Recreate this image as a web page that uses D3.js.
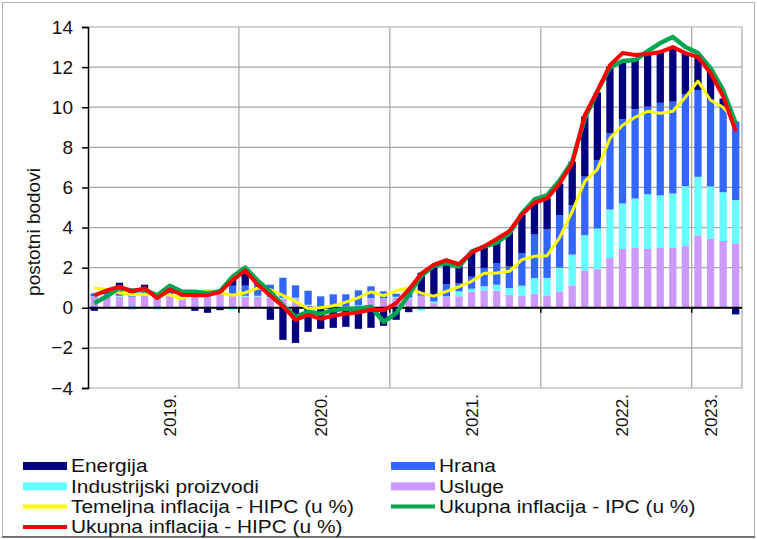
<!DOCTYPE html>
<html>
<head>
<meta charset="utf-8">
<script src="https://cdn.jsdelivr.net/npm/d3@7"></script>
<style>
  body { margin: 0; background: #fff; }
  svg { display: block; font-family: "Liberation Sans", Arial, sans-serif; }
</style>
</head>
<body>
<svg id="chart"></svg>
<script>
// months Jan 2019 - Apr 2023
var months = [
  "2019-01","2019-02","2019-03","2019-04","2019-05","2019-06","2019-07","2019-08","2019-09","2019-10","2019-11","2019-12",
  "2020-01","2020-02","2020-03","2020-04","2020-05","2020-06","2020-07","2020-08","2020-09","2020-10","2020-11","2020-12",
  "2021-01","2021-02","2021-03","2021-04","2021-05","2021-06","2021-07","2021-08","2021-09","2021-10","2021-11","2021-12",
  "2022-01","2022-02","2022-03","2022-04","2022-05","2022-06","2022-07","2022-08","2022-09","2022-10","2022-11","2022-12",
  "2023-01","2023-02","2023-03","2023-04"
];
var yearLabels = ["2019.","2020.","2021.","2022.","2023."];
var yearLabelMonths = ["2019-07","2020-07","2021-07","2022-07","2023-02"];
var yearStarts = ["2020-01","2021-01","2022-01","2023-01"];
var yTicks = [-4,-2,0,2,4,6,8,10,12,14];

// contributions (percentage points)
var usluge = [
  0.55,0.6,0.55,0.55,0.65,0.5,0.6,0.45,0.6,0.6,0.7,0.65,
  0.55,0.55,0.5,0.45,0.45,0.1,0.05,0.05,0.05,0.1,0.45,0.45,
  0.5,0.45,0.6,0.23,0.55,0.57,0.8,0.87,0.85,0.65,0.6,0.7,
  0.62,0.82,1.12,1.87,1.92,2.48,2.93,2.98,2.93,2.98,2.98,3.08,
  3.6,3.45,3.33,3.2
];
var industrijski = [
  0.02,0.05,0.05,-0.1,-0.05,-0.1,0.05,0.05,0.0,0.0,0.0,-0.1,
  0.05,0.05,0.05,0.05,0.05,0.05,0.02,0.02,0.02,0.02,0.02,0.02,
  0.05,0.05,-0.15,0.08,0.02,0.25,0.15,0.2,0.3,0.33,0.5,0.78,
  0.87,1.18,1.53,1.75,2.03,2.42,2.27,2.47,2.73,2.62,2.72,2.98,
  2.93,2.6,2.43,2.17
];
var hrana = [
  0.15,0.1,0.3,0.1,0.15,0.05,0.25,0.15,0.2,0.3,0.2,0.45,
  0.5,0.55,0.6,1.0,0.62,0.7,0.5,0.6,0.6,0.75,0.6,0.35,
  0.15,0.4,0.1,0.25,0.6,0.4,0.6,0.92,1.08,1.08,1.63,2.17,
  2.42,2.62,2.47,2.92,3.42,3.8,4.2,4.45,4.37,4.62,4.58,4.6,
  4.33,4.33,4.23,3.92
];
var energija = [
  -0.15,0.15,0.35,0.3,0.35,0.05,0.0,0.0,-0.15,-0.25,-0.12,0.4,
  0.7,0.1,-0.6,-1.6,-1.75,-1.2,-1.05,-1.0,-0.95,-1.05,-1.0,-0.9,
  -0.6,-0.22,1.05,1.58,1.25,0.92,1.2,1.12,1.17,1.7,1.92,1.62,
  1.55,1.58,2.17,3.0,3.37,3.33,2.88,2.55,2.58,2.55,2.67,2.03,
  1.58,1.42,0.45,-0.33
];

// rates (%)
var temeljnaHIPC = [
  1.0,0.9,0.75,0.65,0.68,0.65,0.65,0.45,0.75,0.85,0.75,0.62,
  0.75,0.98,0.9,0.62,0.32,-0.05,0.0,0.1,0.28,0.5,0.8,0.6,
  0.85,1.0,0.73,0.58,0.82,1.05,1.32,1.72,1.73,1.82,2.4,2.57,
  2.6,3.5,4.8,6.3,6.9,8.45,9.1,9.5,9.8,9.7,9.8,10.5,
  11.3,10.35,10.0,9.3
];
var ukupnaIPC = [
  0.23,0.57,1.0,0.85,0.9,0.62,1.1,0.8,0.8,0.72,0.82,1.55,
  2.0,1.35,0.8,0.12,-0.45,-0.2,-0.3,-0.12,-0.05,-0.05,0.05,-0.7,
  -0.27,0.65,1.6,2.1,2.22,2.05,2.8,3.05,3.25,3.7,4.7,5.4,
  5.6,6.35,7.3,9.45,10.8,12.0,12.3,12.35,12.8,13.2,13.5,13.0,
  12.7,11.95,10.85,9.2
];
var ukupnaHIPC = [
  0.62,0.87,1.05,0.82,0.98,0.48,0.9,0.65,0.63,0.63,0.78,1.38,
  1.85,1.15,0.6,0.07,-0.6,-0.35,-0.55,-0.4,-0.3,-0.23,-0.1,-0.12,
  0.23,0.9,1.7,2.15,2.38,2.18,2.75,3.07,3.43,3.82,4.65,5.23,
  5.45,6.2,7.2,9.6,10.8,12.1,12.7,12.6,12.65,12.75,13.0,12.7,
  12.5,11.7,10.55,8.8
];

var width = 757, height = 539;
var plotL = 88, plotR = 742, plotT = 27, plotB = 388;

var barSeries = [
  {key: "usluge", values: usluge, color: "#cc99ff"},
  {key: "industrijski", values: industrijski, color: "#66ffff"},
  {key: "hrana", values: hrana, color: "#3366ff"},
  {key: "energija", values: energija, color: "#000080"}
];
var lineSeries = [
  {values: temeljnaHIPC, color: "#ffff00", w: 3},
  {values: ukupnaIPC, color: "#00a64f", w: 4.5},
  {values: ukupnaHIPC, color: "#ff0000", w: 4}
];

var svg = d3.select("#chart").attr("width", width).attr("height", height);

svg.append("rect")
  .attr("x", 2.5).attr("y", 2.5)
  .attr("width", width - 5).attr("height", height - 5)
  .attr("fill", "#fff").attr("stroke", "#b4b4b4");
svg.append("line")
  .attr("x1", 2).attr("x2", width - 2).attr("y1", height - 2).attr("y2", height - 2)
  .attr("stroke", "#555").attr("stroke-width", 1.5);

var x = d3.scaleBand().domain(months).range([plotL, plotR])
  .paddingInner(0.42).paddingOuter(0.21);
var y = d3.scaleLinear().domain([-4, 14]).range([plotB, plotT]);

function cx(m) { return x(m) + x.bandwidth() / 2; }

// grid
var grid = svg.append("g");
grid.selectAll(".hg").data(yTicks).enter().append("line")
  .attr("x1", plotL).attr("x2", plotR)
  .attr("y1", function(d) { return y(d); })
  .attr("y2", function(d) { return y(d); })
  .attr("stroke", "#a6a6a6").attr("stroke-width", 1.2);
grid.selectAll(".vg").data(yearStarts).enter().append("line")
  .attr("x1", function(d) { return cx(d) - x.step() / 2; })
  .attr("x2", function(d) { return cx(d) - x.step() / 2; })
  .attr("y1", plotT).attr("y2", plotB)
  .attr("stroke", "#a6a6a6").attr("stroke-width", 1.2);
grid.append("line")
  .attr("x1", plotR).attr("x2", plotR).attr("y1", plotT).attr("y2", plotB)
  .attr("stroke", "#a6a6a6").attr("stroke-width", 1.2);

// stacked bars
var rows = months.map(function(m, i) {
  var r = {month: m};
  barSeries.forEach(function(s) { r[s.key] = s.values[i]; });
  return r;
});
var stacked = d3.stack()
  .keys(barSeries.map(function(s) { return s.key; }))
  .offset(d3.stackOffsetDiverging)(rows);

svg.append("g").selectAll("g")
  .data(stacked).enter().append("g")
  .attr("fill", function(d, i) { return barSeries[i].color; })
  .selectAll("rect")
  .data(function(d) { return d; })
  .enter().append("rect")
  .attr("x", function(d) { return x(d.data.month); })
  .attr("width", x.bandwidth())
  .attr("y", function(d) { return y(Math.max(d[0], d[1])); })
  .attr("height", function(d) { return Math.abs(y(d[0]) - y(d[1])); });

// axes
var yAxis = d3.axisLeft(y).tickValues(yTicks).tickSize(6).tickPadding(9);
var gy = svg.append("g").attr("transform", "translate(" + plotL + ",0)").call(yAxis);
gy.select(".domain").attr("stroke", "#000").attr("stroke-width", 1.5);
gy.selectAll(".tick line").attr("stroke", "#000").attr("stroke-width", 1.5);
gy.selectAll("text").attr("font-size", 19).attr("fill", "#111")
  .attr("font-family", "Liberation Sans, Arial, sans-serif");

svg.append("line")
  .attr("x1", plotL).attr("x2", plotR).attr("y1", y(0)).attr("y2", y(0))
  .attr("stroke", "#000").attr("stroke-width", 2);
svg.selectAll(".xt").data(yearStarts).enter().append("line")
  .attr("x1", function(d) { return cx(d) - x.step() / 2; })
  .attr("x2", function(d) { return cx(d) - x.step() / 2; })
  .attr("y1", y(0)).attr("y2", y(0) + 5)
  .attr("stroke", "#000").attr("stroke-width", 1.5);

svg.selectAll(".yl").data(yearLabels).enter().append("text")
  .attr("transform", function(d, i) {
    return "translate(" + cx(yearLabelMonths[i]) + ",394) rotate(-90)";
  })
  .attr("text-anchor", "end").attr("dy", "0.35em")
  .attr("font-size", 17).attr("fill", "#111")
  .text(function(d) { return d; });

svg.append("text")
  .attr("transform", "translate(40,232) rotate(-90)")
  .attr("text-anchor", "middle")
  .attr("font-size", 19).attr("fill", "#111")
  .text("postotni bodovi");

// lines
var line = d3.line()
  .x(function(d, i) { return cx(months[i]); })
  .y(function(d) { return y(d); });
svg.append("g").selectAll("path")
  .data(lineSeries).enter().append("path")
  .attr("d", function(d) { return line(d.values); })
  .attr("fill", "none")
  .attr("stroke", function(d) { return d.color; })
  .attr("stroke-width", function(d) { return d.w; })
  .attr("stroke-linejoin", "round");

// legend
var legendItems = [
  {label: "Energija", color: "#000080", type: "box", col: 0, row: 0},
  {label: "Hrana", color: "#3366ff", type: "box", col: 1, row: 0},
  {label: "Industrijski proizvodi", color: "#66ffff", type: "box", col: 0, row: 1},
  {label: "Usluge", color: "#cc99ff", type: "box", col: 1, row: 1},
  {label: "Temeljna inflacija - HIPC (u %)", color: "#ffff00", type: "line", col: 0, row: 2},
  {label: "Ukupna inflacija - IPC (u %)", color: "#00a64f", type: "line", col: 1, row: 2},
  {label: "Ukupna inflacija - HIPC (u %)", color: "#ff0000", type: "line", col: 0, row: 3}
];
var colX = [23, 391], rowY = [466, 486.3, 506.6, 527];
var lg = svg.append("g").selectAll("g").data(legendItems).enter().append("g")
  .attr("transform", function(d) { return "translate(" + colX[d.col] + "," + rowY[d.row] + ")"; });
lg.filter(function(d) { return d.type == "box"; }).append("rect")
  .attr("x", 0).attr("y", -4).attr("width", 44).attr("height", 8)
  .attr("fill", function(d) { return d.color; });
lg.filter(function(d) { return d.type == "line"; }).append("line")
  .attr("x1", 0).attr("x2", 44).attr("y1", 0).attr("y2", 0)
  .attr("stroke", function(d) { return d.color; }).attr("stroke-width", 4);
lg.append("text")
  .attr("transform", "translate(48,0) scale(1.16,1)")
  .attr("dy", "0.36em")
  .attr("font-size", 18).attr("fill", "#111")
  .text(function(d) { return d.label; });
</script>
</body>
</html>
